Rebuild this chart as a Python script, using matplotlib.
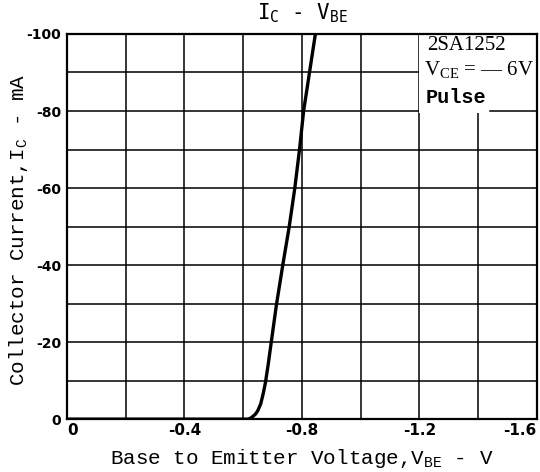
import matplotlib
matplotlib.use('Agg')
from matplotlib import pyplot as plt
from matplotlib.patches import Rectangle
import numpy as np

plt.rcParams['axes.unicode_minus'] = False
plt.rcParams['mathtext.fontset'] = 'custom'
plt.rcParams['mathtext.rm'] = 'Liberation Mono'
plt.rcParams['mathtext.it'] = 'Liberation Mono'

# curve (V_BE in V, I_C in mA, both negative)
vbe = [0, -0.60, -0.617, -0.625, -0.633, -0.642, -0.65, -0.66, -0.668, -0.676,
       -0.685, -0.694, -0.713, -0.735, -0.757, -0.776, -0.792, -0.806, -0.826, -0.846]
ic = [0, 0, 0, -0.25, -0.7, -1.3, -2.2, -4.0, -6.5, -9.5,
      -14, -19, -29.5, -40, -50, -60, -70, -80, -90, -100]

x_ticks = [0, -0.4, -0.8, -1.2, -1.6]
x_labels = ["0", "-0.4", "-0.8", "-1.2", "-1.6"]
y_ticks = [0, -20, -40, -60, -80, -100]
y_labels = ["0", "-20", "-40", "-60", "-80", "-100"]

fig = plt.figure(figsize=(5.4, 4.72), dpi=100)
ax = fig.add_axes([0.124, 0.112, 0.870, 0.816])

ax.plot(vbe, ic, color='black', lw=2.4, zorder=3, solid_capstyle='butt',
        solid_joinstyle='round')

ax.set_xlim(0, -1.6)
ax.set_ylim(0, -100)
ax.set_xticks(x_ticks)
ax.set_xticklabels(x_labels)
ax.set_yticks(y_ticks)
ax.set_yticklabels(y_labels)
ax.set_xticks(np.arange(0, -1.61, -0.2), minor=True)
ax.set_yticks(np.arange(0, -101, -10), minor=True)
ax.grid(which='both', color='black', lw=1.1)
ax.tick_params(which='both', length=0)
ax.tick_params(axis='x', pad=3, labelsize=11)
ax.tick_params(axis='y', pad=4, labelsize=10)
for lab in ax.get_xticklabels() + ax.get_yticklabels():
    lab.set_fontweight('bold')
ax.get_xticklabels()[0].set_horizontalalignment('left')
ax.get_xticklabels()[-1].set_horizontalalignment('right')
for s in ax.spines.values():
    s.set_linewidth(1.6)

# white box for the device notes
ax.add_patch(Rectangle((-1.2, -79.6), -0.45, -21, facecolor='white',
                       edgecolor='none', zorder=2))
ax.plot([-1.44, -1.6], [-80, -80], color='black', lw=1.1, zorder=2.2)
ax.text(-1.362, -97.1, "2SA1252", family='Liberation Serif', fontsize=15,
        ha='center', va='center', zorder=4)
ax.text(-1.405, -90.6, "V$_{\\mathregular{CE}}$ = \u2014 6V", family='Liberation Serif',
        fontsize=15, ha='center', va='center', zorder=4)
ax.text(-1.22, -83.6, "Pulse", family='Liberation Mono', fontweight='bold',
        fontsize=14.5, ha='left', va='center', zorder=4)

ax.set_xlabel(r"Base to Emitter Voltage,V$_{\mathrm{BE}}$ - V",
              family='Liberation Mono', fontsize=15, labelpad=6)
ax.set_ylabel(r"Collector Current,I$_{\mathrm{C}}$ - mA",
              family='Liberation Mono', fontsize=15)
ax.yaxis.set_label_coords(-0.078, 0.49)
fig.text(0.56, 0.972, r"I$_{\mathregular{C}}$ - V$_{\mathregular{BE}}$",
         family='DejaVu Sans Mono', fontsize=15, ha='center', va='center')

plt.savefig("out.png")
